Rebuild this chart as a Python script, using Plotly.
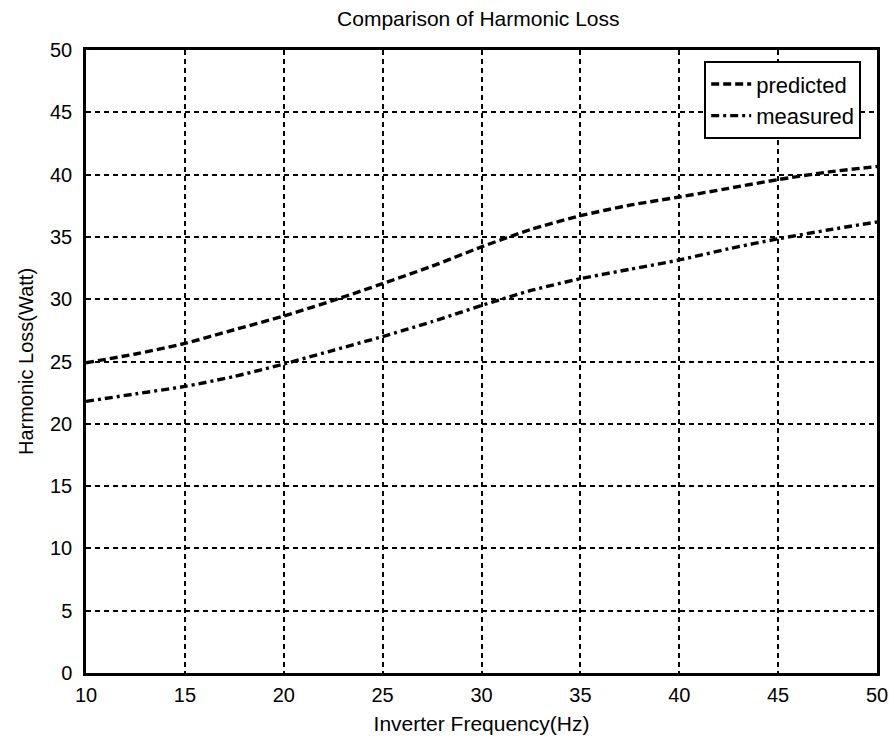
import plotly.graph_objects as go

# Inverter frequency (Hz) sample points
freq = [10, 12.5, 15, 17.5, 20, 22.5, 25, 27.5, 30, 32.5, 35, 37.5, 40, 42.5, 45, 47.5, 50]

# Harmonic loss (Watt)
predicted = [24.9, 25.6, 26.45, 27.55, 28.65, 29.9, 31.25, 32.65, 34.2, 35.6, 36.7, 37.55, 38.2, 38.9, 39.6, 40.2, 40.65]
measured = [21.8, 22.4, 23.0, 23.8, 24.8, 25.9, 27.0, 28.2, 29.5, 30.7, 31.65, 32.4, 33.15, 34.05, 34.85, 35.55, 36.2]

x_ticks = [10, 15, 20, 25, 30, 35, 40, 45, 50]
y_ticks = [0, 5, 10, 15, 20, 25, 30, 35, 40, 45, 50]

FONT = "Liberation Sans, Arial, sans-serif"

fig = go.Figure()
fig.add_trace(go.Scatter(
    x=freq, y=predicted, name="predicted", mode="lines",
    line=dict(color="black", width=3.4, dash="8px,4px", shape="spline", smoothing=0.5),
))
fig.add_trace(go.Scatter(
    x=freq, y=measured, name="measured", mode="lines",
    line=dict(color="black", width=3.4, dash="8px,4px,3px,4px", shape="spline", smoothing=0.5),
))

axis_common = dict(
    showgrid=True, gridcolor="black", gridwidth=2.2, griddash="5px,4px",
    showline=True, linecolor="black", linewidth=2.5, mirror=True,
    ticks="", zeroline=False, automargin=False, ticklabeloverflow="allow",
    tickfont=dict(family=FONT, size=20, color="black"),
)

fig.update_layout(
    width=889, height=738,
    paper_bgcolor="white", plot_bgcolor="white",
    margin=dict(l=86, r=12, t=50, b=65),
    title=dict(text="Comparison of Harmonic Loss", x=0.538, xanchor="center",
               y=0.975, yanchor="middle",
               font=dict(family=FONT, size=21, color="black")),
    xaxis=dict(range=[10, 50], tickvals=x_ticks, ticklabelstandoff=2,
               title=dict(text="Inverter Frequency(Hz)", standoff=12,
                          font=dict(family=FONT, size=21, color="black")),
               **axis_common),
    yaxis=dict(range=[0, 50], tickvals=y_ticks, ticklabelstandoff=7,
               title=dict(text="Harmonic Loss(Watt)", standoff=12,
                          font=dict(family=FONT, size=20, color="black")),
               **axis_common),
    legend=dict(x=0.98, y=0.982, xanchor="right", yanchor="top",
                bgcolor="white", bordercolor="black", borderwidth=2,
                font=dict(family=FONT, size=22, color="black"),
                tracegroupgap=0, itemwidth=40),
    showlegend=True,
)

fig.write_html("out.html")
